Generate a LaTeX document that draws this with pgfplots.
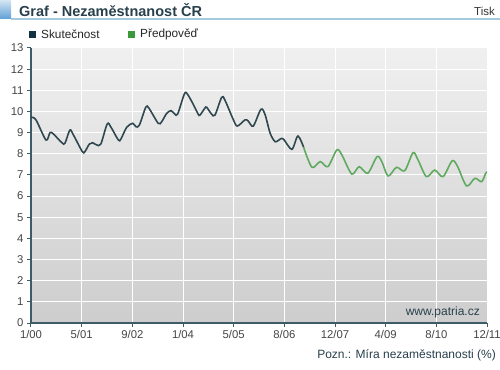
\documentclass[border=0pt]{standalone}
\usepackage{fontspec}
\setmainfont{Liberation Sans}
\usepackage{pgfplots}
\pgfplotsset{compat=1.18}
\definecolor{axcol}{HTML}{3E5B68}
\definecolor{darkline}{HTML}{2F474E}
\definecolor{greenline}{HTML}{5FAA5F}
\definecolor{legdark}{HTML}{123242}
\definecolor{leggreen}{HTML}{3A9A3A}
\definecolor{titlecol}{HTML}{28404C}
\definecolor{linecol}{HTML}{A4C8DC}
\definecolor{bgtop}{HTML}{F0F0F0}
\definecolor{bgbot}{HTML}{CDCDCD}
\definecolor{sqtop}{HTML}{D4E6F4}
\definecolor{sqbot}{HTML}{5E9ED6}
\definecolor{labcol}{HTML}{444444}
\begin{document}
\begin{tikzpicture}
\useasboundingbox (0,0) rectangle (500pt,369pt);
% header
\shade[top color=sqtop, bottom color=sqbot] (0,369pt) rectangle (11pt,350pt);
\draw[linecol, line width=1.5pt] (11pt,350pt) -- (500pt,350pt);
\node[anchor=west, font=\bfseries\fontsize{14.5}{16}\selectfont, text=titlecol, inner sep=0] at (19pt,359pt) {Graf - Nezaměstnanost ČR};
\node[anchor=east, font=\fontsize{11.5}{13}\selectfont, inner sep=0, text=black!80] at (495pt,358pt) {Tisk};
% legend
\fill[legdark] (29pt,331pt) rectangle (36pt,338pt);
\node[anchor=west, inner sep=0, font=\fontsize{11.8}{13}\selectfont, text=black!85] at (41pt,334.5pt) {Skutečnost};
\fill[leggreen] (128pt,331pt) rectangle (135pt,338pt);
\node[anchor=west, inner sep=0, font=\fontsize{11.8}{13}\selectfont, text=black!85] at (140pt,334.5pt) {Předpověď};
\begin{axis}[
  at={(31pt,46pt)}, anchor=south west, scale only axis,
  width=456pt, height=275pt,
  xmin=0, xmax=143, ymin=0, ymax=13,
  axis lines=left, axis line style={-, axcol, line width=1.2pt},
  xtick={0,15.889,31.778,47.667,63.556,79.444,95.333,111.222,127.111,143},
  xticklabels={1/00,5/01,9/02,1/04,5/05,8/06,12/07,4/09,8/10,12/11},
  ytick={0,1,...,13},
  grid=major, grid style={white, line width=1pt},
  tick style={axcol, line width=1pt}, tick align=outside, major tick length=4pt,
  ticklabel style={font=\fontsize{11.3}{13}\selectfont, text=labcol},
  /pgf/number format/assume math mode=true,
  axis background/.style={top color=bgtop, bottom color=bgbot},
]
\addplot[darkline, line width=1.6pt, smooth, tension=0.5] coordinates {
(0,9.73) (1.57,9.6) (4.7,8.65) (5.96,9.0) (7.0,8.94) (9.7,8.52) (10.66,8.5)
(12.2,9.12) (13.3,8.89) (16.1,8.1) (16.9,8.1) (18.3,8.46) (19.3,8.52) (20.6,8.42)
(21.9,8.46) (23.9,9.41) (25.1,9.25) (27.4,8.65) (28.2,8.7) (30.0,9.25) (31.9,9.44)
(32.9,9.28) (34.0,9.36) (36.0,10.2) (37.0,10.15) (39.9,9.44) (41.0,9.52) (42.5,9.9)
(43.9,10.04) (45.1,9.88) (46.0,9.88) (48.1,10.83) (49.0,10.83) (50.7,10.39)
(52.4,9.88) (53.0,9.83) (54.5,10.15) (55.1,10.2) (56.6,9.88) (57.7,9.83)
(59.8,10.67) (60.8,10.54) (63.4,9.63) (64.7,9.31) (67.1,9.6) (68.1,9.55)
(69.7,9.31) (72.1,10.1) (73.4,9.85) (75.0,8.97) (76.6,8.57) (78.2,8.7) (79.2,8.69)
(81.8,8.21) (83.7,8.84) (85.5,8.3)
};
\addplot[greenline, line width=1.6pt, smooth, tension=0.5] coordinates {
(85.5,8.3) (88.1,7.36) (90.7,7.63) (93.1,7.39) (95.9,8.18) (97.5,7.94)
(100.6,7.04) (102.9,7.39) (105.6,7.08) (108.5,7.86) (110.0,7.63) (112.0,6.95)
(114.6,7.36) (117.2,7.2) (119.8,8.05) (121.4,7.7) (124.0,6.92) (126.6,7.23)
(129.2,6.92) (132.1,7.67) (133.8,7.39) (136.6,6.48) (139.2,6.84) (141.3,6.68)
(142.6,7.08) (143,7.15)
};
\end{axis}
\node[anchor=east, inner sep=0, font=\fontsize{12}{14}\selectfont, text=titlecol] at (480pt,57pt) {www.patria.cz};
\node[anchor=east, inner sep=0, font=\fontsize{12}{14}\selectfont, text=titlecol] at (496pt,14pt) {Pozn.: Míra nezaměstnanosti (\%)};
\end{tikzpicture}
\end{document}
